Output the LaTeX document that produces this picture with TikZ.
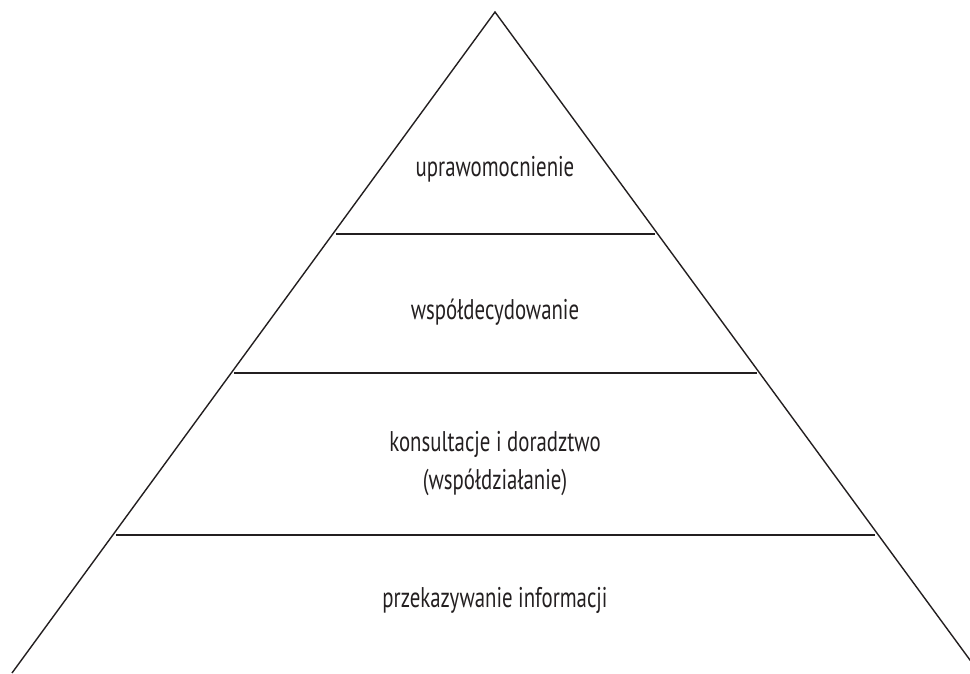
\documentclass[tikz,border=0pt]{standalone}
\usepackage{fontspec}
\setmainfont{PT Sans}[FakeStretch=0.73]
\usetikzlibrary{calc}
\definecolor{ink}{HTML}{231F20}
\begin{document}
\begin{tikzpicture}[x=1pt,y=1pt,
  edge/.style={draw=ink,line width=1.4pt},
  level/.style={text=ink,font=\fontsize{28.5}{38}\selectfont,anchor=base,inner sep=0pt}]
\useasboundingbox (0,0) rectangle (970,673);
\begin{scope}
\clip (0,0) rectangle (970,673);
% pyramid outline
\coordinate (apex) at (495,661);
\coordinate (bl) at (12,0);
\coordinate (br) at (979.5,0);
\draw[edge,line join=miter] (bl) -- (apex) -- (br);
\end{scope}
% dividing lines between the levels, set slightly inside the sides
\foreach \name/\y in {d1/439, d2/300, d3/138} {
  \coordinate (\name l) at ($(bl)!{\y/661}!(apex)$);
  \coordinate (\name r) at ($(br)!{\y/661}!(apex)$);
  \draw[edge] ($(\name l)+(3,0)$) -- ($(\name r)+(-3,0)$);
}
% level labels
\node[level] (t1) at (495,496) {uprawomocnienie};
\node[level] (t2) at (495,353) {współdecydowanie};
\node[level] (t3a) at (495,221) {konsultacje i doradztwo};
\node[level] (t3b) at (495,183) {(współdziałanie)};
\node[level] (t4) at (495,66) {przekazywanie informacji};
\end{tikzpicture}
\end{document}
